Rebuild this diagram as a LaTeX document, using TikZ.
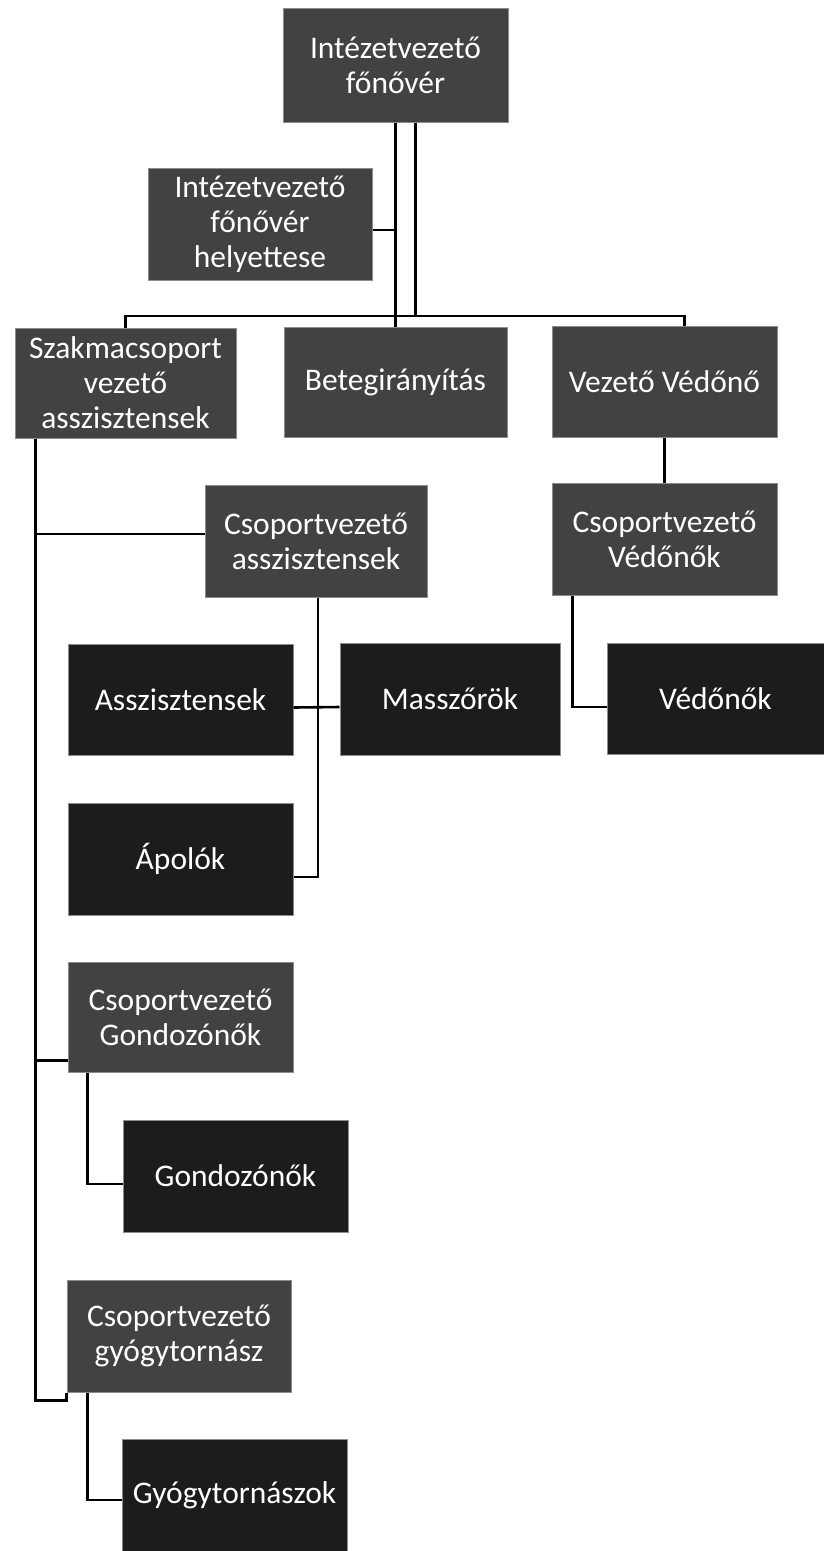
\documentclass[tikz,border=0pt]{standalone}
\usepackage{fontspec}
\setmainfont{Carlito}
\begin{document}
\begin{tikzpicture}[x=1pt,y=1pt,
  box/.style={rectangle, draw=black!45, line width=1pt, text=white, align=center,
    inner sep=1pt, minimum width=223pt, minimum height=111pt,
    font=\fontsize{31.5}{35}\selectfont},
  upper/.style={box, fill=black!74},
  lower/.style={box, fill=black!89},
  conn/.style={draw=black, line width=2.6pt}]
\useasboundingbox (0,0) rectangle (824,-1551);
\fill[white] (0,0) rectangle (824,-1551);
% nodes
\node[upper, minimum width=225pt, minimum height=114pt] (top) at (395.5,-65) {Intézetvezető\\főnővér};
\node[upper, minimum width=224pt, minimum height=112pt] (help) at (260,-224) {Intézetvezető\\főnővér\\helyettese};
\node[upper, minimum width=221pt, minimum height=110pt] (szak) at (125.5,-383) {Szakmacsoport\\vezető\\asszisztensek};
\node[upper, minimum height=110pt] (beteg) at (395.5,-382) {Betegirányítás};
\node[upper, minimum width=225pt] (vezved) at (664.5,-381.5) {Vezető Védőnő};
\node[upper, minimum width=222pt, minimum height=112pt] (cvassz) at (316,-541) {Csoportvezető\\asszisztensek};
\node[upper, minimum width=225pt, minimum height=112pt] (cvved) at (664.5,-539) {Csoportvezető\\Védőnők};
\node[lower, minimum width=225pt] (assz) at (180.5,-699.5) {Asszisztensek};
\node[lower, minimum width=220pt, minimum height=112pt] (massz) at (450,-699) {Masszőrök};
\node[lower, minimum width=217pt] (vedo) at (715.5,-699) {Védőnők};
\node[lower, minimum width=225pt, minimum height=112pt] (apol) at (180.5,-859) {Ápolók};
\node[upper, minimum width=225pt, minimum height=110pt] (cvgond) at (180.5,-1017) {Csoportvezető\\Gondozónők};
\node[lower, minimum width=225pt, minimum height=112pt] (gond) at (235.5,-1176) {Gondozónők};
\node[upper, minimum width=224pt, minimum height=112pt] (cvgyogy) at (179,-1336) {Csoportvezető\\gyógytornász};
\node[lower, minimum width=225pt, minimum height=112pt] (gyogy) at (234.5,-1495) {Gyógytornászok};
% connectors
\coordinate (bus) at (0,-316);
\draw[conn] (top.south) -- (beteg.north);
\draw[conn] ([yshift=-6pt]help.east) -- ([yshift=-6pt]help.east -| top.south);
\draw[conn] ([xshift=20pt]top.south) -- ([xshift=20pt]top.south |- bus);
\draw[conn] (szak.north) |- ([xshift=20pt]vezved.north |- bus) -- ([xshift=20pt]vezved.north);
\coordinate (L) at ([xshift=21pt]szak.south west);
\draw[conn] (L) |- ([yshift=-8pt]cvgyogy.south west) -- (cvgyogy.south west);
\draw[conn] (L) |- ([yshift=7pt]cvassz.west);
\draw[conn] (L) |- ([yshift=12pt]cvgond.south west);
\draw[conn] ([xshift=2pt]cvassz.south) |- ([yshift=-18pt]apol.east);
\draw[conn] ([yshift=-8pt]assz.east) -- ([yshift=-8pt]massz.west);
\draw[conn] (vezved.south) -- (cvved.north);
\draw[conn] ([xshift=21pt]cvved.south west) |- ([yshift=-8pt]vedo.west);
\draw[conn] ([xshift=20pt]cvgond.south west) |- ([yshift=-8pt]gond.west);
\draw[conn] ([xshift=21pt]cvgyogy.south west) |- ([yshift=-5pt]gyogy.west);
\end{tikzpicture}
\end{document}
